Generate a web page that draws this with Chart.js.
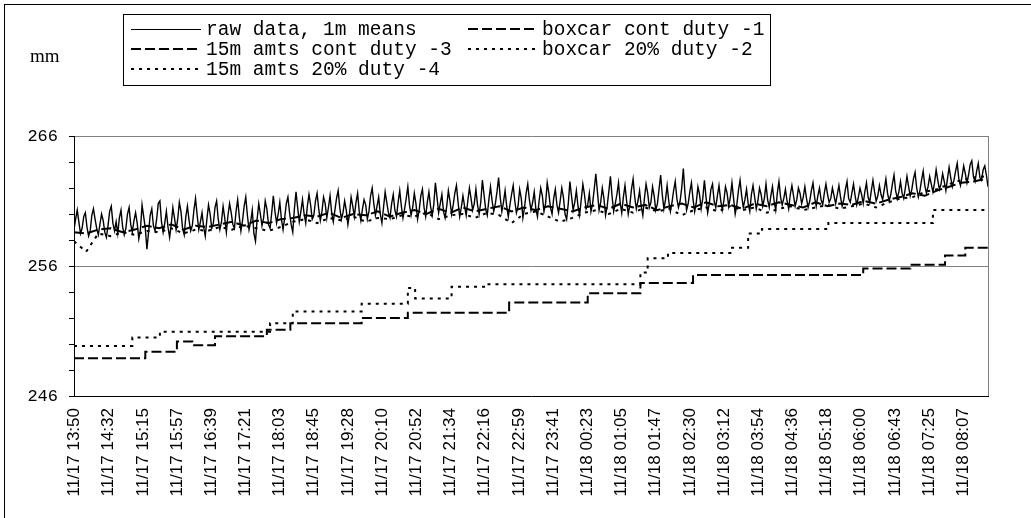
<!DOCTYPE html>
<html><head><meta charset="utf-8">
<script src="https://cdn.jsdelivr.net/npm/chart.js@4.4.1/dist/chart.umd.min.js"></script>
<style>html,body{margin:0;padding:0;background:#fff;}#wrap{width:1031px;height:518px;position:relative;}</style>
</head><body><div id="wrap"><canvas id="c" width="1031" height="518"></canvas></div>
<script>
// ---------- data ----------
const xTickLabels = ['11/17 13:50','11/17 14:32','11/17 15:15','11/17 15:57','11/17 16:39','11/17 17:21','11/17 18:03','11/17 18:45','11/17 19:28','11/17 20:10','11/17 20:52','11/17 21:34','11/17 22:16','11/17 22:59','11/17 23:41','11/18 00:23','11/18 01:05','11/18 01:47','11/18 02:30','11/18 03:12','11/18 03:54','11/18 04:36','11/18 05:18','11/18 06:00','11/18 06:43','11/18 07:25','11/18 08:07'];
const seriesLabels = ['raw data, 1m means','boxcar cont duty -1','15m amts cont duty -3','boxcar 20% duty -2','15m amts 20% duty -4'];
const yAxisTitle = 'mm';
const yMin = 246, yMax = 266, yMinorStep = 2, yLabelStep = 10;

// raw series, one reading every 2 minutes from 11/17 13:50
const rawSampleMinutes = 2;
const rawValues = [
258.8,259.6,260.3,259.4,258.5,258.9,259.8,260.1,259.0,258.3,
258.7,259.9,260.4,259.6,258.9,258.4,259.2,260.0,259.5,258.6,
258.2,259.1,260.2,260.6,259.3,258.7,259.4,258.5,259.7,260.3,
259.0,258.4,258.9,260.0,260.5,259.2,258.6,259.5,260.1,259.3,
258.1,258.8,260.7,259.8,258.9,257.3,258.6,259.9,260.4,259.1,
258.7,259.6,260.8,261.0,259.4,258.6,259.3,260.2,259.0,258.2,
259.2,260.5,259.7,258.8,259.6,260.9,260.2,258.9,258.4,259.8,
260.6,259.5,258.7,259.1,260.3,261.2,259.9,258.8,259.4,260.1,
259.0,258.3,259.6,260.7,260.0,258.9,259.3,260.5,261.0,259.6,
258.8,259.4,260.6,259.7,258.6,259.9,260.8,260.1,259.2,258.9,
260.2,261.1,259.8,258.7,259.5,260.6,261.3,259.9,258.8,259.4,
260.3,258.5,257.9,259.6,260.8,260.0,259.1,259.7,261.0,260.4,
259.2,258.9,260.1,261.4,260.2,259.3,260.0,260.9,259.6,258.8,
259.7,260.8,261.3,260.1,259.2,258.6,260.4,261.7,260.5,259.4,
260.2,261.1,260.0,259.3,260.6,261.5,260.7,259.6,259.9,261.0,
261.6,260.4,259.5,260.2,261.3,260.8,259.7,260.5,261.4,260.1,
259.4,260.3,261.2,261.8,260.5,259.6,260.1,261.0,260.3,259.2,
260.0,261.3,260.6,259.8,260.9,261.6,260.2,259.5,260.4,261.1,
260.7,259.6,260.2,261.4,262.0,260.8,259.9,260.6,261.3,260.0,
259.3,260.5,261.7,260.9,260.1,259.7,260.8,261.5,260.3,259.8,
260.9,261.8,260.6,259.7,260.4,261.2,262.1,260.7,259.9,260.5,
261.6,260.8,259.6,260.3,261.4,261.9,260.5,259.8,260.9,261.7,
260.6,259.9,260.7,262.4,261.3,260.1,260.8,261.5,260.2,259.7,
260.6,261.8,261.0,260.0,260.7,261.6,262.2,260.9,259.8,260.5,
261.4,260.6,259.9,261.0,262.0,261.2,260.3,260.8,261.9,260.7,
260.0,260.9,262.6,261.5,260.4,259.9,261.1,262.1,261.0,260.2,
260.8,261.7,262.8,261.3,260.2,260.9,261.8,260.6,259.8,260.7,
261.5,262.2,261.0,260.1,260.6,261.9,261.2,259.7,260.5,261.6,
262.3,261.1,260.3,260.9,261.7,260.4,259.8,261.0,262.0,261.4,
260.2,260.8,262.4,261.6,260.5,260.0,261.2,261.9,260.7,260.1,
261.0,262.0,261.3,260.0,259.6,260.8,262.5,261.4,260.3,260.9,
261.8,260.6,259.9,261.1,262.3,261.5,260.4,260.7,261.6,260.2,
260.8,261.9,263.1,261.7,260.3,260.9,262.0,261.2,259.9,260.6,
261.7,262.9,261.4,260.2,260.8,261.5,262.4,260.9,260.1,261.3,
262.2,261.0,260.0,260.7,261.9,262.7,261.3,260.4,261.0,261.8,
260.6,259.9,261.2,262.3,261.6,260.5,260.9,262.1,261.4,260.3,
260.8,261.9,263.0,261.5,260.4,261.1,262.2,261.0,260.2,260.9,
261.8,262.5,261.2,260.5,261.0,262.0,263.5,261.6,260.3,260.8,
261.7,262.4,261.1,260.2,260.9,262.1,261.5,260.4,261.2,262.6,
261.3,260.1,260.8,261.9,262.3,261.0,260.5,261.4,262.2,261.1,
260.3,261.0,262.1,261.6,260.6,261.3,262.4,261.2,260.0,260.7,
261.8,262.6,261.4,260.5,261.1,261.9,260.8,260.2,261.5,262.2,
261.3,260.4,261.0,262.0,261.5,260.6,261.2,262.3,261.1,260.5,
261.4,262.1,261.0,260.3,261.6,262.5,261.3,260.7,261.2,261.9,
261.0,260.4,261.5,262.2,261.4,260.6,261.1,262.0,261.6,260.8,
261.3,262.1,261.2,260.5,261.0,261.8,262.4,261.3,260.6,261.4,
262.0,261.1,260.7,261.6,262.3,261.5,260.9,261.2,262.0,261.4,
260.8,261.5,262.2,261.3,260.6,261.1,261.9,262.5,261.2,260.9,
261.6,262.3,261.4,260.7,261.3,262.0,261.5,260.8,261.7,262.4,
261.3,260.9,261.8,262.6,261.7,261.0,261.4,262.2,261.5,261.1,
261.9,262.7,261.6,261.0,261.5,262.3,263.0,261.8,261.2,261.7,
262.5,261.6,261.2,262.0,262.9,262.1,261.4,261.9,262.7,263.2,
262.0,261.3,261.8,262.6,263.3,262.2,261.6,262.1,262.9,262.3,
261.7,262.4,263.4,262.6,261.9,262.3,263.1,262.5,261.8,262.7,
263.6,262.8,262.1,262.6,263.3,263.9,262.7,262.2,262.9,263.7,
263.1,262.4,263.0,263.8,264.1,262.9,262.5,263.3,263.9,262.8,
262.6,263.4,263.7,263.0,262.1
];

// 15-minute series
const amtsSampleMinutes = 15;
const amtsContValues = [
258.6,258.5,258.8,258.9,258.6,258.8,259.1,258.9,259.2,258.8,
259.1,259.0,259.2,259.4,259.1,259.5,259.3,259.6,259.7,259.9,
259.8,260.1,259.7,260.0,259.9,260.2,259.8,260.1,260.3,260.0,
260.4,260.1,260.5,260.2,260.4,260.6,260.2,260.5,260.3,260.6,
260.4,260.2,260.5,260.7,260.4,260.8,260.5,260.7,260.3,260.6,
260.8,260.5,260.9,260.6,260.7,260.4,260.8,260.6,260.9,260.7,
260.5,260.9,260.6,260.8,260.7,261.0,260.8,261.1,261.3,261.6,
261.4,261.8,262.1,262.4,262.5,262.7
];
const amts20Values = [
257.9,257.1,258.5,258.3,258.6,258.4,258.7,258.6,258.9,258.5,
258.8,258.7,259.0,258.8,259.1,258.9,258.7,259.0,259.4,259.6,
259.3,259.7,259.5,259.8,259.4,259.7,259.6,259.9,259.8,260.1,
259.6,259.9,260.0,259.7,260.1,259.9,259.3,260.0,260.2,259.8,
259.4,259.7,260.1,260.3,260.0,260.4,260.1,260.5,260.2,260.4,
259.9,260.3,260.5,260.2,260.6,260.3,260.5,260.1,260.4,260.6,
260.3,260.5,260.7,260.4,260.6,260.8,260.5,260.9,261.2,261.3,
261.7,261.9,262.3,262.6,262.8,262.9
];

// boxcar series: level changes (minutes after 11/17 13:50) and new level
const boxcarContStartMin = [0,88,127,146,174,238,267,355,412,537,634,699,764,974,1032,1075,1100];
const boxcarContValues   = [248.9,249.4,250.2,249.9,250.6,251.1,251.6,252.0,252.4,253.2,253.9,254.7,255.3,255.8,256.1,256.8,257.4];
const boxcar20StartMin   = [0,72,106,242,270,355,412,421,466,510,699,708,733,810,832,849,931,1060];
const boxcar20Values     = [249.85,250.5,250.95,251.6,252.5,253.1,254.3,253.5,254.4,254.6,255.5,256.6,257.0,257.4,258.5,258.85,259.3,260.3];

// ---------- build ----------
function labelMinutes(s){
  const [d,t] = s.split(' ');
  const day = Number(d.split('/')[1]);
  const [h,m] = t.split(':').map(Number);
  return day*1440 + h*60 + m;
}
const t0 = labelMinutes(xTickLabels[0]);
const tickValues = xTickLabels.map(s => labelMinutes(s) - t0);
const xEnd = (rawValues.length - 1) * rawSampleMinutes;

const rawPts = rawValues.map((v,i) => ({x: i*rawSampleMinutes, y: v}));
const amtsContPts = amtsContValues.map((v,i) => ({x: i*amtsSampleMinutes, y: v}));
const amts20Pts = amts20Values.map((v,i) => ({x: i*amtsSampleMinutes, y: v}));
function stepPts(starts, vals){
  return starts.map((s,i) => ({x: s, y: vals[i]})).concat([{x: xEnd, y: vals[vals.length-1]}]);
}

const DASH = [10,4], DOT = [3,5];
const datasets = [
  {label: seriesLabels[0], data: rawPts, borderColor:'#000', borderWidth:1.4, borderDash:[]},
  {label: seriesLabels[1], data: stepPts(boxcarContStartMin, boxcarContValues), borderColor:'#000', borderWidth:2, borderDash:DASH, stepped:true},
  {label: seriesLabels[2], data: amtsContPts, borderColor:'#000', borderWidth:2, borderDash:DASH},
  {label: seriesLabels[3], data: stepPts(boxcar20StartMin, boxcar20Values), borderColor:'#000', borderWidth:2, borderDash:DOT, stepped:true},
  {label: seriesLabels[4], data: amts20Pts, borderColor:'#000', borderWidth:2, borderDash:DOT}
];

const decor = {
  id: 'decor',
  beforeDraw(chart){
    const ctx = chart.ctx;
    ctx.save(); ctx.fillStyle = '#fff'; ctx.fillRect(0,0,chart.width,chart.height); ctx.restore();
  },
  afterDraw(chart){
    const ctx = chart.ctx, a = chart.chartArea;
    ctx.save();
    ctx.lineWidth = 1;
    ctx.strokeStyle = '#808080';
    ctx.beginPath();
    const rx = Math.floor(a.right) + 0.5;
    ctx.moveTo(rx, a.top); ctx.lineTo(rx, a.bottom); ctx.stroke();
    // outer chart border
    ctx.strokeStyle = '#000';
    ctx.strokeRect(4.5, 4.5, 1100, 600);
    // axis unit
    ctx.fillStyle = '#000';
    ctx.font = '19px "Liberation Serif"';
    ctx.textAlign = 'left'; ctx.textBaseline = 'middle';
    ctx.fillText(yAxisTitle, 30, 57);
    // legend
    ctx.strokeStyle = '#000';
    ctx.strokeRect(123.5, 14.5, 647, 71);
    const sx0 = [131, 468], sx1 = [201, 538], tx = [206, 542], ry = [29, 49, 69];
    ctx.font = '19.5px "Liberation Mono"';
    chart.data.datasets.forEach((ds, i) => {
      const col = i % 2, row = Math.floor(i / 2);
      ctx.save();
      ctx.setLineDash(ds.borderDash || []);
      ctx.lineWidth = ds.borderWidth === 2 ? 2 : 1;
      ctx.strokeStyle = ds.borderColor;
      const y = ds.borderWidth === 2 ? ry[row] : ry[row] + 0.5;
      ctx.beginPath(); ctx.moveTo(sx0[col], y); ctx.lineTo(sx1[col], y); ctx.stroke();
      ctx.restore();
      ctx.fillText(ds.label, tx[col], ry[row] + 1);
    });
    ctx.restore();
  }
};

const isMajor = v => (v - yMin) % yLabelStep === 0;

new Chart(document.getElementById('c'), {
  type: 'line',
  data: { datasets },
  plugins: [decor],
  options: {
    responsive: false, animation: false, devicePixelRatio: 1,
    layout: { padding: { left: 0, right: 43, top: 136, bottom: 0 } },
    plugins: { legend: { display: false }, tooltip: { enabled: false } },
    elements: { point: { radius: 0 }, line: { tension: 0, fill: false } },
    scales: {
      x: {
        type: 'linear', min: 0, max: xEnd,
        grid: { display: false, drawTicks: false, tickLength: 0 },
        border: { display: true, color: '#000', width: 1 },
        afterBuildTicks: s => { s.ticks = tickValues.map(v => ({ value: v })); },
        afterFit: s => { s.height = 122; },
        ticks: {
          autoSkip: false, minRotation: 90, maxRotation: 90, padding: 12, color: '#000',
          font: { family: '"Liberation Sans", Arial, sans-serif', size: 17 },
          callback: (v, i) => xTickLabels[i]
        }
      },
      y: {
        type: 'linear', min: yMin, max: yMax,
        afterFit: s => { s.width = 74; },
        grid: {
          color: c => (c.tick && isMajor(c.tick.value) && c.tick.value !== yMin) ? '#808080' : 'rgba(0,0,0,0)',
          tickColor: '#000', tickLength: 5, drawTicks: true, lineWidth: 1
        },
        border: { display: true, color: '#000', width: 1 },
        ticks: {
          stepSize: yMinorStep, autoSkip: false, padding: 11, color: '#000',
          font: { family: '"Liberation Mono", "Courier New", monospace', size: 17 },
          callback: v => (isMajor(v) ? String(v) : '')
        }
      }
    }
  }
});
</script>
</body></html>
